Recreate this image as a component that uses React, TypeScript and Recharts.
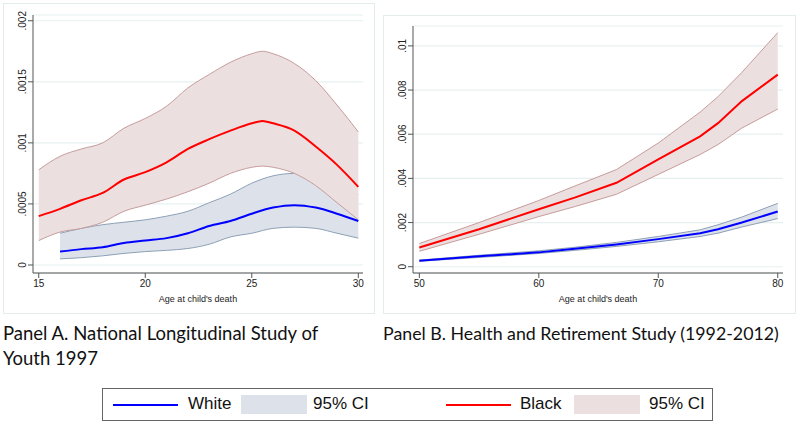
import React from "react";
import { ComposedChart, Area, Line, XAxis, YAxis, CartesianGrid } from "recharts";

// Panel A: NLSY97, black series
const ageA = [15, 16, 17, 18, 19, 20, 21, 22, 23, 24, 25, 25.5, 26, 27, 28, 29, 30];
const blackA = [0.0004, 0.00046, 0.00053, 0.00059, 0.0007, 0.00076, 0.00084, 0.00095, 0.00103, 0.0011, 0.00116, 0.00118, 0.00116, 0.0011, 0.00097, 0.00082, 0.00064];
const blackAHi = [0.00078, 0.00089, 0.00095, 0.001, 0.00112, 0.0012, 0.0013, 0.00145, 0.00156, 0.00166, 0.00173, 0.00175, 0.00173, 0.00165, 0.00151, 0.00131, 0.00109];
const blackALo = [0.0002, 0.00027, 0.0003, 0.00035, 0.00044, 0.00049, 0.00054, 0.0006, 0.00067, 0.00075, 0.0008, 0.00081, 0.0008, 0.00075, 0.00065, 0.00051, 0.00037];

// Panel A: white series (starts at 16)
const whiteAgeA = [16, 17, 18, 19, 20, 21, 22, 23, 24, 25, 26, 27, 28, 29, 30];
const whiteA = [0.00011, 0.00013, 0.000145, 0.00018, 0.0002, 0.00022, 0.00026, 0.00032, 0.00036, 0.00042, 0.00047, 0.00049, 0.00047, 0.00042, 0.00036];
const whiteAHi = [0.00026, 0.0003, 0.00033, 0.00035, 0.00037, 0.0004, 0.00044, 0.00051, 0.00058, 0.00067, 0.00073, 0.00075, 0.00072, 0.00065, 0.00058];
const whiteALo = [0.00005, 0.00006, 0.000075, 0.000095, 0.00011, 0.00012, 0.000135, 0.00017, 0.00023, 0.00026, 0.0003, 0.00031, 0.0003, 0.00026, 0.00022];

// Panel B: HRS
const ageB = [50, 55, 60, 63, 66.5, 70, 73.5, 75, 77, 80];
const blackB = [0.00087, 0.0017, 0.0026, 0.00313, 0.0038, 0.00486, 0.0059, 0.0065, 0.0075, 0.0087];
const blackBHi = [0.00105, 0.002, 0.003, 0.00365, 0.0044, 0.0056, 0.007, 0.0077, 0.0088, 0.0106];
const blackBLo = [0.0007, 0.00147, 0.00227, 0.00272, 0.00328, 0.00418, 0.00508, 0.00553, 0.00628, 0.00714];
const whiteB = [0.00027, 0.00047, 0.00065, 0.00081, 0.00101, 0.00125, 0.00152, 0.0017, 0.002, 0.0025];
const whiteBHi = [0.0003, 0.00052, 0.00072, 0.00088, 0.0011, 0.00137, 0.00167, 0.0019, 0.00225, 0.00287];
const whiteBLo = [0.00025, 0.00042, 0.0006, 0.00074, 0.00092, 0.00113, 0.00137, 0.00152, 0.0018, 0.00218];

// ticks
const xTicksA = [15, 20, 25, 30];
const yTicksA = [0, 0.0005, 0.001, 0.0015, 0.002];
const yLabelsA = ["0", ".0005", ".001", ".0015", ".002"];
const xTicksB = [50, 60, 70, 80];
const yTicksB = [0, 0.002, 0.004, 0.006, 0.008, 0.01];
const yLabelsB = ["0", ".002", ".004", ".006", ".008", ".01"];

const xTitle = "Age at child's death";
const captionA = ["Panel A. National Longitudinal Study of", "Youth 1997"];
const captionB = "Panel B. Health and Retirement Study (1992-2012)";

const BLUE = "#0000ff";
const RED = "#ff0000";
const GRAY_FILL = "#dde2ea";
const GRAY_EDGE = "#8da0b6";
const PINK_FILL = "#ecdfdf";
const PINK_EDGE = "#c79c9c";
const AXIS = "#555";
const GRID = "#e6f0f0";

const rows = (ages: number[], mean: number[], lo: number[], hi: number[]) =>
  ages.map((age, i) => ({ age, mean: mean[i], band: [lo[i], hi[i]] }));

const rowsBlackA = rows(ageA, blackA, blackALo, blackAHi);
const rowsWhiteA = rows(whiteAgeA, whiteA, whiteALo, whiteAHi);
const rowsBlackB = rows(ageB, blackB, blackBLo, blackBHi);
const rowsWhiteB = rows(ageB, whiteB, whiteBLo, whiteBHi);

const yTick = (ticks: number[], labels: string[]) => (props: any) => {
  const { x, y, payload } = props;
  const i = ticks.findIndex((t) => Math.abs(t - payload.value) < 1e-9);
  return (
    <text x={x} y={y} transform={`rotate(-90, ${x}, ${y})`} textAnchor="middle" fontSize={10} fill="#222">
      {labels[i]}
    </text>
  );
};

const font = "'Liberation Sans', Arial, sans-serif";

function Panel(props: {
  left: number;
  top: number;
  width: number;
  height: number;
  marginTop: number;
  xDomain: [number, number];
  yDomain: [number, number];
  xTicks: number[];
  yTicks: number[];
  yLabels: string[];
  black: any[];
  white: any[];
  curve: "monotone" | "linear";
}) {
  const p = props;
  return (
    <div style={{ position: "absolute", left: p.left, top: p.top }}>
      <ComposedChart
        width={p.width}
        height={p.height}
        margin={{ top: p.marginTop, right: 17, left: 0, bottom: 0 }}
        style={{ fontFamily: font }}
      >
        <CartesianGrid horizontal vertical={false} stroke={GRID} strokeWidth={1.2} />
        <XAxis
          dataKey="age"
          type="number"
          domain={p.xDomain}
          ticks={p.xTicks}
          allowDataOverflow
          height={37}
          stroke={AXIS}
          tickSize={5}
          tickMargin={2}
          tick={{ fontSize: 10, fill: "#222" }}
          label={{ value: xTitle, position: "insideBottom", offset: 8, fontSize: 9, fill: "#222" }}
        />
        <YAxis
          type="number"
          domain={p.yDomain}
          ticks={p.yTicks}
          allowDataOverflow
          width={33}
          stroke={AXIS}
          tickSize={5}
          tickMargin={2}
          tick={yTick(p.yTicks, p.yLabels)}
        />
        <Area
          data={p.white}
          dataKey="band"
          type={p.curve}
          fill={GRAY_FILL}
          fillOpacity={1}
          stroke={GRAY_EDGE}
          strokeWidth={1}
          isAnimationActive={false}
          dot={false}
          activeDot={false}
        />
        <Area
          data={p.black}
          dataKey="band"
          type={p.curve}
          fill={PINK_FILL}
          fillOpacity={1}
          stroke={PINK_EDGE}
          strokeWidth={1}
          isAnimationActive={false}
          dot={false}
          activeDot={false}
        />
        <Line data={p.white} dataKey="mean" type={p.curve} stroke={BLUE} strokeWidth={2} dot={false} isAnimationActive={false} />
        <Line data={p.black} dataKey="mean" type={p.curve} stroke={RED} strokeWidth={2} dot={false} isAnimationActive={false} />
      </ComposedChart>
    </div>
  );
}

const legendItems = [
  { label: "White", color: BLUE, fill: GRAY_FILL, lineX: 10, textX: 85, swatchX: 138, ciX: 210 },
  { label: "Black", color: RED, fill: PINK_FILL, lineX: 343, textX: 417, swatchX: 471, ciX: 546 },
];

export default function App() {
  const captionStyle: React.CSSProperties = {
    position: "absolute",
    fontFamily: "Lato, 'Open Sans', sans-serif",
    fontSize: 18.5,
    lineHeight: "25px",
    color: "#111",
    whiteSpace: "nowrap",
  };
  return (
    <div style={{ position: "absolute", left: 0, top: 0, width: 800, height: 425, background: "#fff", overflow: "hidden" }}>
      <div style={{ position: "absolute", left: 3, top: 3, width: 370, height: 309, border: "1px solid #e3ebeb" }} />
      <div style={{ position: "absolute", left: 383, top: 15, width: 411, height: 297, border: "1px solid #e3ebeb" }} />
      <Panel
        left={0}
        top={0}
        width={380}
        height={310}
        marginTop={15}
        xDomain={[14.73, 30.22]}
        yDomain={[-0.0000655, 0.002047]}
        xTicks={xTicksA}
        yTicks={yTicksA}
        yLabels={yLabelsA}
        black={rowsBlackA}
        white={rowsWhiteA}
        curve="monotone"
      />
      <Panel
        left={380}
        top={0}
        width={420}
        height={310}
        marginTop={26}
        xDomain={[49.47, 80.44]}
        yDomain={[-0.000284, 0.0109]}
        xTicks={xTicksB}
        yTicks={yTicksB}
        yLabels={yLabelsB}
        black={rowsBlackB}
        white={rowsWhiteB}
        curve="linear"
      />
      <div style={{ ...captionStyle, left: 3, top: 321 }}>
        {captionA[0]}
        <br />
        {captionA[1]}
      </div>
      <div style={{ ...captionStyle, fontSize: 17.8, left: 383, top: 321 }}>{captionB}</div>
      <div
        style={{
          position: "absolute",
          left: 102,
          top: 388,
          width: 609,
          height: 31,
          border: "1.5px solid #666",
          fontFamily: font,
          fontSize: 17,
          color: "#111",
        }}
      >
        {legendItems.map((it) => (
          <React.Fragment key={it.label}>
            <div style={{ position: "absolute", left: it.lineX, top: 15, width: 65, height: 2, background: it.color }} />
            <div style={{ position: "absolute", left: it.textX, top: 5, lineHeight: "20px" }}>{it.label}</div>
            <div style={{ position: "absolute", left: it.swatchX, top: 6, width: 66, height: 19, background: it.fill }} />
            <div style={{ position: "absolute", left: it.ciX, top: 5, lineHeight: "20px" }}>95% CI</div>
          </React.Fragment>
        ))}
      </div>
    </div>
  );
}
